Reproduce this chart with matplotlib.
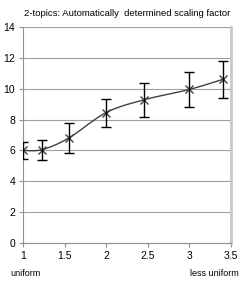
import matplotlib
matplotlib.use("Agg")
import matplotlib.pyplot as plt
import numpy as np

plt.rcParams['font.family'] = ['Liberation Sans', 'DejaVu Sans']

# data
x_vals = [1.0, 1.23, 1.55, 2.0, 2.45, 3.0, 3.4]
y_vals = [6.0, 6.05, 6.8, 8.45, 9.27, 9.95, 10.6]
y_err_hi = [6.55, 6.7, 7.8, 9.35, 10.35, 11.1, 11.8]
y_err_lo = [5.45, 5.4, 5.8, 7.5, 8.15, 8.8, 9.4]
x_ticks = [1, 1.5, 2, 2.5, 3, 3.5]
y_ticks = [0, 2, 4, 6, 8, 10, 12, 14]


def smooth_line(xs, ys, n=20):
    # catmull-rom style smoothing like the spreadsheet "smoothed line"
    p = np.column_stack([xs, ys])
    p = np.vstack([p[0], p, p[-1]])
    out = []
    for i in range(1, len(p) - 2):
        p0, p1, p2, p3 = p[i - 1], p[i], p[i + 1], p[i + 2]
        for t in np.linspace(0, 1, n, endpoint=False):
            t2, t3 = t * t, t * t * t
            out.append(0.5 * ((2 * p1) + (-p0 + p2) * t
                              + (2 * p0 - 5 * p1 + 4 * p2 - p3) * t2
                              + (-p0 + 3 * p1 - 3 * p2 + p3) * t3))
    out.append(p[-2])
    out = np.array(out)
    return out[:, 0], out[:, 1]


fig = plt.figure(figsize=(2.49, 2.89), dpi=100)
ax = fig.add_axes([0.092, 0.159, 0.836, 0.748])

sx, sy = smooth_line(x_vals, y_vals)
ax.plot(sx, sy, color="#404040", lw=1.0, zorder=3)
ax.plot(x_vals, y_vals, linestyle="none", marker="x", ms=5.5, mew=1.0,
        color="#404040", zorder=4)
yv = np.array(y_vals)
ax.errorbar(x_vals, y_vals,
            yerr=[yv - np.array(y_err_lo), np.array(y_err_hi) - yv],
            fmt="none", ecolor="black", elinewidth=1.0, capsize=3.5,
            capthick=1.0, zorder=5)

ax.set_xlim(1, 3.5)
ax.set_ylim(0, 14)
ax.set_xticks(x_ticks)
ax.set_xticklabels(["1", "1.5", "2", "2.5", "3", "3.5"])
ax.set_yticks(y_ticks)
ax.yaxis.grid(True, color="#a0a0a0", lw=0.8)
ax.set_axisbelow(True)

for s in ["left", "bottom"]:
    ax.spines[s].set_color("#909090")
    ax.spines[s].set_linewidth(0.8)
ax.spines["top"].set_visible(False)
ax.spines["right"].set_color("#c8c8c8")
ax.spines["right"].set_linewidth(2.0)
ax.tick_params(axis="both", colors="#909090", labelcolor="black",
               labelsize=7.5, length=3, width=0.8, pad=2.5)

ax.set_title("2-topics: Automatically  determined scaling factor",
             fontsize=6.8, pad=8)
fig.text(0.04, 0.055, "uniform", fontsize=6.5, ha="left", va="center")
fig.text(0.96, 0.055, "less uniform", fontsize=6.5, ha="right", va="center")

fig.savefig("out.png", dpi=100)
